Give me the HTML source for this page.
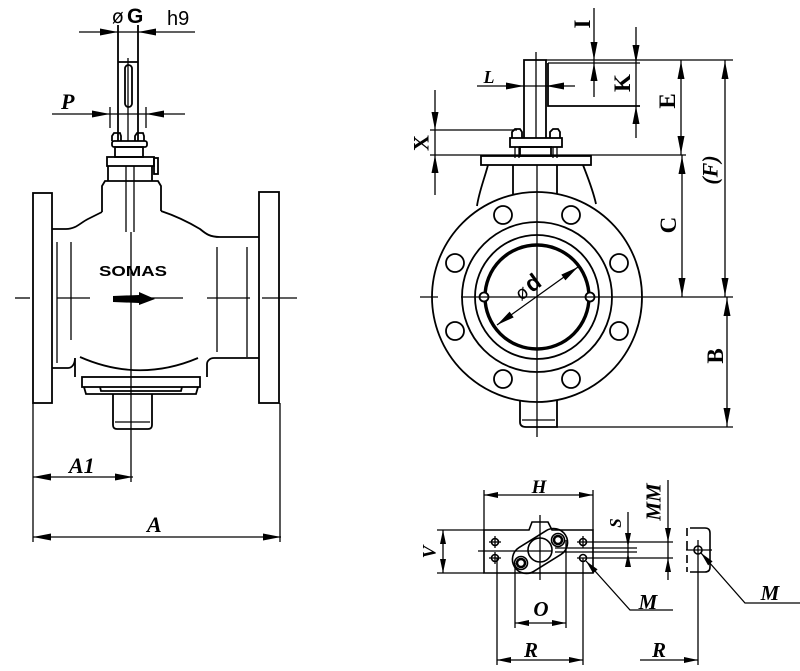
<!DOCTYPE html>
<html><head><meta charset="utf-8"><style>
html,body{margin:0;padding:0;background:#fff;}
svg{display:block;}
text{font-family:"Liberation Serif",serif;font-weight:bold;fill:#000;}
</style></head><body>
<svg width="800" height="671" viewBox="0 0 800 671" xmlns="http://www.w3.org/2000/svg">
<defs>
<path id="a" d="M0,0 L-18,-3.5 L-18,3.5 Z" fill="#000" stroke="none"/>
<path id="b" d="M0,0 L-14,-3 L-14,3 Z" fill="#000" stroke="none"/>
</defs>

<!-- ============ LEFT VIEW ============ -->
<g fill="none" stroke="#000" stroke-width="1.8">
  <rect x="33" y="193" width="19" height="210"/>
  <rect x="259" y="192" width="20" height="211"/>
  <path d="M52,229 L66,229 C76,229 80,223 88,219 C94,216 98,214 102,212"/>
  <path d="M161,211 C176,216 190,223 200,229 C206,234 210,237 220,237 L259,237"/>
  <path d="M102,212 L102,186 L105,181 L158,181 L161,186 L161,211"/>
  <line x1="108" y1="166" x2="108" y2="181"/>
  <line x1="152" y1="166" x2="152" y2="181"/>
  <rect x="107" y="157" width="47" height="9"/>
  <rect x="154" y="158" width="4" height="16"/>
  <rect x="115" y="147" width="28" height="10"/>
  <rect x="112" y="141" width="35" height="6" rx="2"/>
  <path d="M112,141 L112,136 L114,133 L120,133 L121,136 L121,141"/>
  <path d="M135,141 L135,136 L137,133 L143,133 L144,136 L144,141"/>
  <line x1="118" y1="25" x2="118" y2="141"/>
  <line x1="138" y1="25" x2="138" y2="141"/>
  <line x1="118" y1="62" x2="138" y2="62"/>
  <rect x="125" y="65" width="7" height="42" rx="3.5"/>
  <path d="M52,368 L68,368 C72,368 75,364 75,358 L75,377"/>
  <path d="M259,358 L214,358 C210,358 207,361 207,364 L207,377"/>
  <path d="M80,357 Q139,383 198,358"/>
  <rect x="82" y="377" width="118" height="10"/>
  <path d="M84,387 L86,394 L196,394 L198,387"/>
  <path d="M100,387 L101,391 L181,391 L182,387"/>
  <path d="M113,394 L113,425 Q113,429 117,429 L148,429 Q152,429 152,425 L152,394"/>
</g>
<g fill="none" stroke="#000" stroke-width="1.3">
  <line x1="126" y1="166" x2="126" y2="232"/>
  <line x1="134" y1="166" x2="134" y2="232"/>
  <line x1="128" y1="58" x2="128" y2="141"/>
  <line x1="115" y1="422" x2="150" y2="422"/>
  <line x1="57" y1="242" x2="57" y2="363"/>
  <line x1="71" y1="242" x2="71" y2="340"/>
  <line x1="217" y1="247" x2="217" y2="352"/>
  <line x1="247" y1="247" x2="247" y2="357"/>
  <line x1="131" y1="232" x2="131" y2="482"/>
  <line x1="15" y1="298" x2="30" y2="298"/>
  <line x1="57" y1="298" x2="90" y2="298"/>
  <line x1="150" y1="298" x2="183" y2="298"/>
  <line x1="207" y1="298" x2="250" y2="298"/>
  <line x1="262" y1="298" x2="297" y2="298"/>
  <line x1="79" y1="32" x2="195" y2="32"/>
  <line x1="52" y1="114" x2="185" y2="114"/>
  <line x1="110" y1="107" x2="110" y2="128"/>
  <line x1="146" y1="107" x2="146" y2="128"/>
  <line x1="33" y1="403" x2="33" y2="542"/>
  <line x1="280" y1="403" x2="280" y2="542"/>
  <line x1="33" y1="477" x2="133" y2="477"/>
  <line x1="33" y1="537" x2="281" y2="537"/>
</g>
<use href="#a" transform="translate(118,32)"/>
<use href="#a" transform="translate(138,32) rotate(180)"/>
<use href="#a" transform="translate(110,114)"/>
<use href="#a" transform="translate(146,114) rotate(180)"/>
<use href="#a" transform="translate(33,477) rotate(180)"/>
<use href="#a" transform="translate(133,477)"/>
<use href="#a" transform="translate(33,537) rotate(180)"/>
<use href="#a" transform="translate(281,537)"/>
<path d="M113,296 L139,295 L139,292 L155,299 L139,305 L139,303 L113,302 Z" fill="#000"/>
<text x="99" y="276" font-size="15" textLength="68" lengthAdjust="spacingAndGlyphs" style="font-family:'Liberation Sans',sans-serif">SOMAS</text>

<text x="112" y="23" font-size="19" style="font-family:'DejaVu Sans',sans-serif;font-weight:normal">ø</text>
<text x="127" y="23" font-size="21" style="font-family:'Liberation Sans',sans-serif">G</text>
<text x="167" y="25" font-size="20" style="font-family:'Liberation Sans',sans-serif;font-weight:normal">h9</text>
<text x="61" y="109" font-size="22" font-style="italic">P</text>
<text x="69" y="473" font-size="22" font-style="italic">A1</text>
<text x="147" y="532" font-size="22" font-style="italic">A</text>

<!-- ============ RIGHT VIEW ============ -->
<g fill="none" stroke="#000" stroke-width="1.8">
  <circle cx="537" cy="297" r="105"/>
  <circle cx="537" cy="297" r="75"/>
  <circle cx="537" cy="297" r="62"/>
  <circle cx="537" cy="297" r="52" stroke-width="3.4"/>
  <circle cx="503" cy="215" r="9"/>
  <circle cx="571" cy="215" r="9"/>
  <circle cx="455" cy="263" r="9"/>
  <circle cx="619" cy="263" r="9"/>
  <circle cx="455" cy="331" r="9"/>
  <circle cx="619" cy="331" r="9"/>
  <circle cx="503" cy="379" r="9"/>
  <circle cx="571" cy="379" r="9"/>
  <circle cx="484" cy="297" r="4.5" fill="#fff"/>
  <circle cx="590" cy="297" r="4.5" fill="#fff"/>
  <rect x="481" y="156" width="110" height="9"/>
  <path d="M488,165 C484,180 479,192 477,206"/>
  <path d="M583,165 C588,178 593,190 596,204"/>
  <line x1="513" y1="165" x2="513" y2="194"/>
  <line x1="557" y1="165" x2="557" y2="194"/>
  <rect x="510" y="138" width="52" height="9"/>
  <rect x="520" y="147" width="31" height="9"/>
  <path d="M512,138 L512,132 L515,129 L520,129 L522,132 L522,138"/>
  <path d="M550,138 L550,132 L553,129 L558,129 L560,132 L560,138"/>
  <path d="M524,138 L524,60 L546,60 L546,138"/>
  <path d="M548,63 L548,106 L640,106"/>
  <path d="M520,400 L520,422 Q520,427 526,427 L557,427 L557,400"/>
</g>
<g fill="none" stroke="#000" stroke-width="1.3">
  <line x1="515" y1="147" x2="515" y2="158"/>
  <line x1="519" y1="147" x2="519" y2="158"/>
  <line x1="553" y1="147" x2="553" y2="158"/>
  <line x1="557" y1="147" x2="557" y2="158"/>
  <line x1="548" y1="63" x2="640" y2="63"/>
  <line x1="522" y1="420" x2="555" y2="420"/>
  <line x1="536" y1="52" x2="536" y2="138"/>
  <line x1="537" y1="165" x2="537" y2="437"/>
  <line x1="420" y1="297" x2="438" y2="297"/>
  <line x1="461" y1="297" x2="733" y2="297"/>
  <line x1="497" y1="325" x2="578" y2="267"/>
  <line x1="546" y1="60" x2="733" y2="60"/>
  <line x1="435" y1="90" x2="435" y2="195"/>
  <line x1="430" y1="130" x2="517" y2="130"/>
  <line x1="430" y1="155" x2="686" y2="155"/>
  <line x1="477" y1="86" x2="575" y2="86"/>
  <line x1="594" y1="8" x2="594" y2="97"/>
  <line x1="636" y1="27" x2="636" y2="138"/>
  <line x1="681" y1="60" x2="681" y2="155"/>
  <line x1="682" y1="155" x2="682" y2="297"/>
  <line x1="725" y1="60" x2="725" y2="297"/>
  <line x1="727" y1="297" x2="727" y2="427"/>
  <line x1="557" y1="427" x2="733" y2="427"/>
</g>
<use href="#a" transform="translate(578,267) rotate(-35.6)"/>
<use href="#a" transform="translate(497,325) rotate(144.4)"/>
<use href="#a" transform="translate(435,130) rotate(90)"/>
<use href="#a" transform="translate(435,155) rotate(-90)"/>
<use href="#a" transform="translate(524,86)"/>
<use href="#a" transform="translate(546,86) rotate(180)"/>
<use href="#a" transform="translate(594,60) rotate(90)"/>
<use href="#a" transform="translate(594,63) rotate(-90)"/>
<use href="#a" transform="translate(636,63) rotate(90)"/>
<use href="#a" transform="translate(636,106) rotate(-90)"/>
<use href="#a" transform="translate(681,61) rotate(-90)"/>
<use href="#a" transform="translate(681,154) rotate(90)"/>
<use href="#a" transform="translate(682,156) rotate(-90)"/>
<use href="#a" transform="translate(682,296) rotate(90)"/>
<use href="#a" transform="translate(725,61) rotate(-90)"/>
<use href="#a" transform="translate(725,296) rotate(90)"/>
<use href="#a" transform="translate(727,298) rotate(-90)"/>
<use href="#a" transform="translate(727,426) rotate(90)"/>

<text x="489" y="83" font-size="18" font-style="italic" text-anchor="middle">L</text>
<text transform="translate(421,143) rotate(-90)" dy="0.35em" font-size="22" text-anchor="middle">X</text>
<text transform="translate(582,24) rotate(-90)" dy="0.35em" font-size="23" text-anchor="middle">I</text>
<text transform="translate(622,83) rotate(-90)" dy="0.35em" font-size="23" text-anchor="middle">K</text>
<text transform="translate(667,101) rotate(-90)" dy="0.35em" font-size="23" text-anchor="middle">E</text>
<text transform="translate(710,170) rotate(-90)" dy="0.35em" font-size="22" font-style="italic" text-anchor="middle">(F)</text>
<text transform="translate(668,225) rotate(-90)" dy="0.35em" font-size="23" text-anchor="middle">C</text>
<text transform="translate(715,356) rotate(-90)" dy="0.35em" font-size="23" text-anchor="middle">B</text>
<text transform="translate(532,293) rotate(-36)" font-size="23" text-anchor="middle"><tspan style="font-family:'DejaVu Sans',sans-serif;font-weight:normal" font-size="18">ø</tspan><tspan style="font-family:'Liberation Sans',sans-serif" dx="2">d</tspan></text>

<!-- ============ BOTTOM VIEW ============ -->
<g fill="none" stroke="#000" stroke-width="1.6">
  <path d="M484,530 L529,530 L532,522 L548,522 L552,530 L593,530 L593,573 L484,573 Z"/>
  <g transform="rotate(-32 540 551)">
    <rect x="510" y="537" width="60" height="28" rx="14"/>
  </g>
  <circle cx="540" cy="550" r="12"/>
  <circle cx="558" cy="540" r="6.5"/>
  <circle cx="558" cy="540" r="4" stroke-width="2.5"/>
  <circle cx="521" cy="563" r="6.5"/>
  <circle cx="521" cy="563" r="4" stroke-width="2.5"/>
  <circle cx="495" cy="542" r="3.5"/>
  <circle cx="495" cy="558" r="3.5"/>
  <circle cx="583" cy="542" r="3.5"/>
  <circle cx="583" cy="558" r="3.5"/>
  <path d="M690,528 L705,528 Q710,528 710,533 L710,567 Q710,572 705,572 L690,572"/>
  <path d="M687,528 L687,536 M687,541 L687,550 M687,555 L687,563 M687,567 L687,572"/>
  <circle cx="698" cy="550" r="4"/>
</g>
<g fill="none" stroke="#000" stroke-width="1.3">
  <line x1="489" y1="542" x2="501" y2="542"/><line x1="495" y1="536" x2="495" y2="548"/>
  <line x1="489" y1="558" x2="501" y2="558"/><line x1="495" y1="552" x2="495" y2="564"/>
  <line x1="577" y1="542" x2="673" y2="542"/><line x1="583" y1="536" x2="583" y2="548"/>
  <line x1="577" y1="558" x2="673" y2="558"/>
  <line x1="555" y1="548" x2="637" y2="548"/>
  <line x1="555" y1="552" x2="637" y2="552"/>
  <line x1="478" y1="551" x2="552" y2="551"/>
  <line x1="540" y1="515" x2="540" y2="580"/>
  <line x1="686" y1="550" x2="712" y2="550"/>
  <line x1="698" y1="540" x2="698" y2="665"/>
  <line x1="484" y1="490" x2="484" y2="530"/>
  <line x1="593" y1="490" x2="593" y2="530"/>
  <line x1="484" y1="495" x2="593" y2="495"/>
  <line x1="437" y1="530" x2="484" y2="530"/>
  <line x1="437" y1="573" x2="484" y2="573"/>
  <line x1="443" y1="530" x2="443" y2="573"/>
  <line x1="628" y1="512" x2="628" y2="567"/>
  <line x1="668" y1="480" x2="668" y2="580"/>
  <line x1="515" y1="563" x2="515" y2="628"/>
  <line x1="566" y1="540" x2="566" y2="628"/>
  <line x1="515" y1="623" x2="566" y2="623"/>
  <line x1="497" y1="558" x2="497" y2="665"/>
  <line x1="583" y1="558" x2="583" y2="665"/>
  <line x1="497" y1="660" x2="583" y2="660"/>
  <line x1="640" y1="660" x2="698" y2="660"/>
  <polyline points="586,561 630,610 673,610"/>
  <polyline points="701,553 745,603 800,603"/>
</g>
<use href="#b" transform="translate(484,495) rotate(180)"/>
<use href="#b" transform="translate(593,495)"/>
<use href="#b" transform="translate(443,530) rotate(-90)"/>
<use href="#b" transform="translate(443,573) rotate(90)"/>
<use href="#b" transform="translate(628,547) rotate(90)"/>
<use href="#b" transform="translate(628,553) rotate(-90)"/>
<use href="#b" transform="translate(668,542) rotate(90)"/>
<use href="#b" transform="translate(668,558) rotate(-90)"/>
<use href="#b" transform="translate(515,623) rotate(180)"/>
<use href="#b" transform="translate(566,623)"/>
<use href="#b" transform="translate(497,660) rotate(180)"/>
<use href="#b" transform="translate(583,660)"/>
<use href="#b" transform="translate(698,660)"/>
<use href="#b" transform="translate(586,561) rotate(-132)"/>
<use href="#b" transform="translate(701,553) rotate(-132)"/>

<text x="539" y="493" font-size="19" font-style="italic" text-anchor="middle">H</text>
<text transform="translate(429,552) rotate(-90)" dy="0.35em" font-size="19" font-style="italic" text-anchor="middle">V</text>
<text transform="translate(615,523) rotate(-90)" dy="0.35em" font-size="17" font-style="italic" text-anchor="middle">S</text>
<text transform="translate(653,502) rotate(-90)" dy="0.35em" font-size="21" font-style="italic" text-anchor="middle">MM</text>
<text x="541" y="616" font-size="21" font-style="italic" text-anchor="middle">O</text>
<text x="531" y="657" font-size="21" font-style="italic" text-anchor="middle">R</text>
<text x="659" y="657" font-size="21" font-style="italic" text-anchor="middle">R</text>
<text x="648" y="609" font-size="21" font-style="italic" text-anchor="middle">M</text>
<text x="770" y="600" font-size="21" font-style="italic" text-anchor="middle">M</text>
</svg>
</body></html>
